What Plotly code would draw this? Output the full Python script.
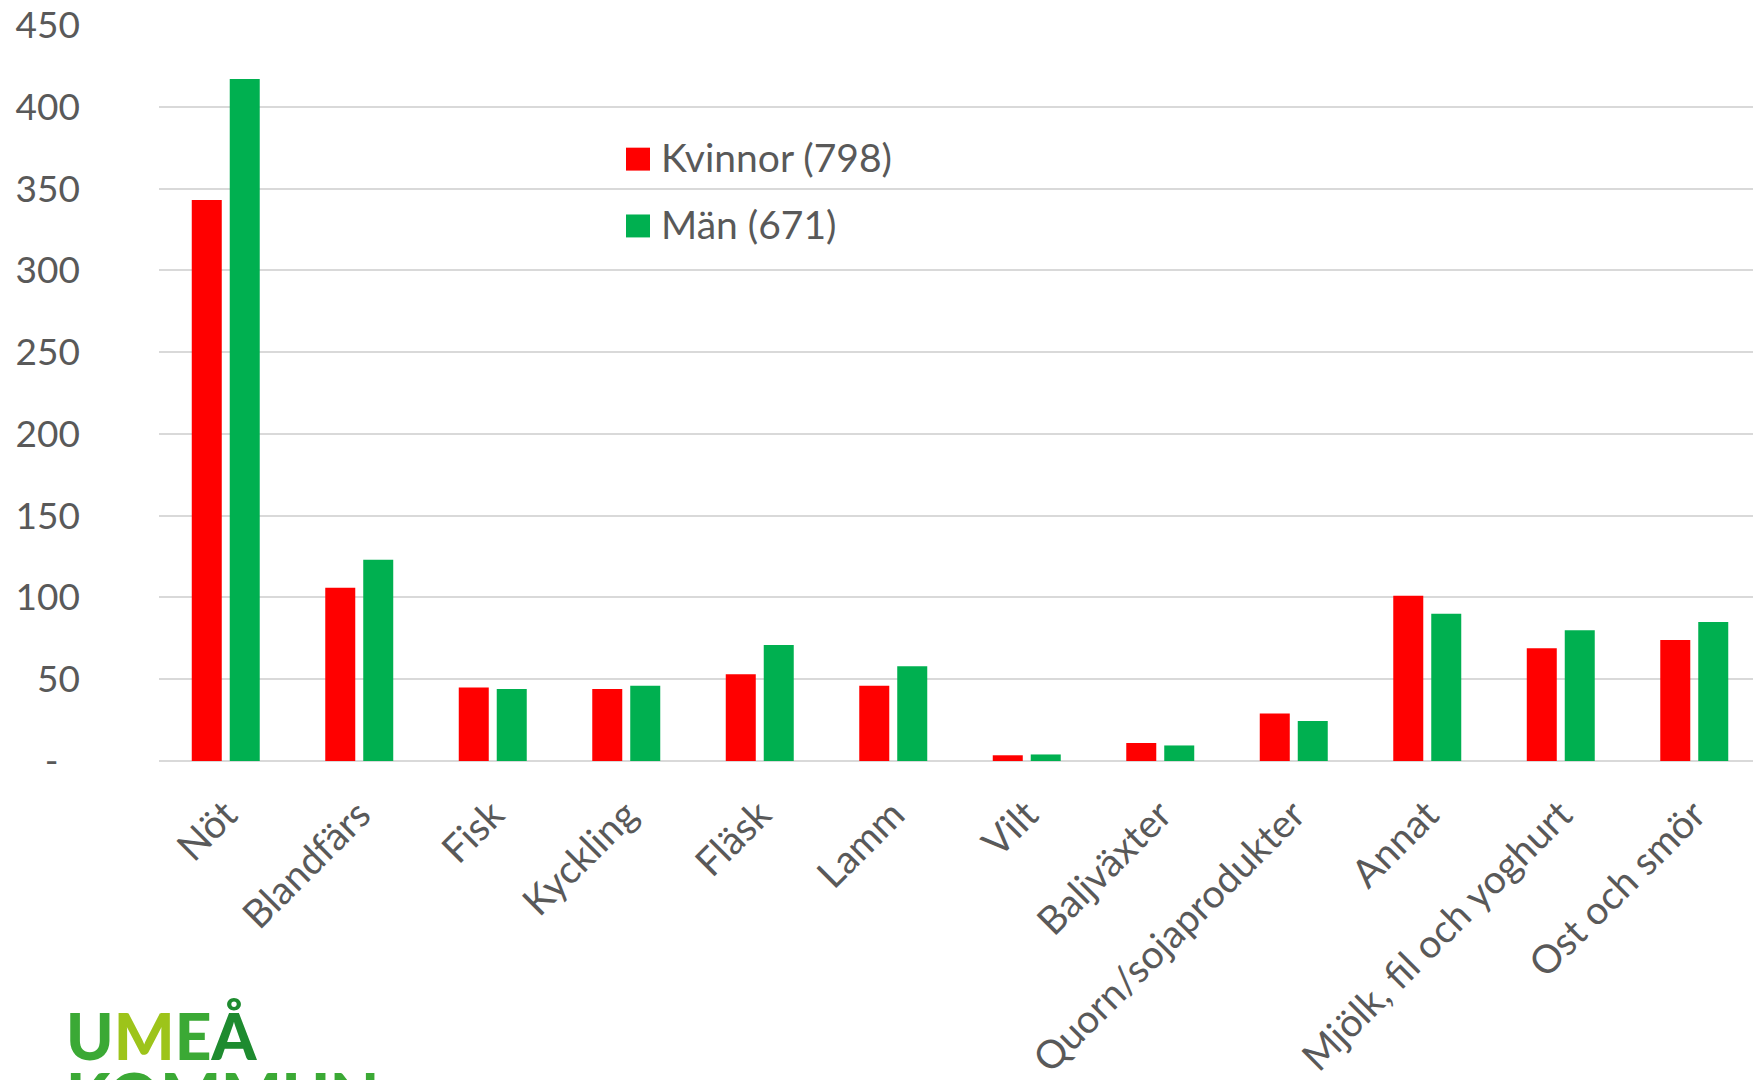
import plotly.graph_objects as go

categories = ["Nöt", "Blandfärs", "Fisk", "Kyckling", "Fläsk", "Lamm", "Vilt",
              "Baljväxter", "Quorn/sojaprodukter", "Annat", "Mjölk, fil och yoghurt", "Ost och smör"]
kvinnor = [343, 106, 45, 44, 53, 46, 3.5, 11, 29, 101, 69, 74]
man = [417, 123, 44, 46, 71, 58, 4, 9.5, 24.5, 90, 80, 85]
series_names = ["Kvinnor (798)", "Män (671)"]
series_colors = ["#FF0000", "#00B050"]
y_tickvals = [0, 50, 100, 150, 200, 250, 300, 350, 400, 450]
y_ticktext = ["-\u2007", "50", "100", "150", "200", "250", "300", "350", "400", "450"]

FONT = "Lato, 'Open Sans', sans-serif"
GREY = "#595959"

# plot area geometry (pixels)
L, T, W, H = 159, 25, 1594, 738


def px(x):
    return (x - L) / W


def py(y):
    return (T + H - y) / H


fig = go.Figure()
fig.add_trace(go.Bar(x=categories, y=kvinnor, name=series_names[0], marker_color=series_colors[0],
                     marker_line_width=0))
fig.add_trace(go.Bar(x=categories, y=man, name=series_names[1], marker_color=series_colors[1],
                     marker_line_width=0))

fig.update_layout(
    width=1753, height=1080,
    margin=dict(l=L, r=1753 - L - W, t=T, b=1080 - T - H),
    paper_bgcolor="white", plot_bgcolor="white",
    barmode="group", bargap=0.431, bargroupgap=0.21,
    font=dict(family=FONT, size=37, color=GREY),
    showlegend=False,
)
fig.update_xaxes(range=[-0.5, 11.44], tickangle=-45, showgrid=False, showline=False,
                 ticks="", tickfont=dict(size=39, color=GREY), ticklabelstandoff=22)
fig.update_yaxes(range=[0, 450], tickvals=y_tickvals, ticktext=y_ticktext,
                 showgrid=True, gridcolor="#D9D9D9", gridwidth=1.5,
                 zeroline=True, zerolinecolor="#D9D9D9", zerolinewidth=1.5,
                 showline=False, ticks="", tickfont=dict(size=37, color=GREY),
                 ticklabelstandoff=78)

# Legend (drawn manually to get the large square keys)
legend_rows = [(148, 171, 157), (215, 238, 224.5)]
for (y0, y1, yc), name, col in zip(legend_rows, series_names, series_colors):
    fig.add_shape(type="rect", xref="paper", yref="paper",
                  x0=px(626), x1=px(650), y0=py(y1), y1=py(y0),
                  fillcolor=col, line_width=0)
    fig.add_annotation(xref="paper", yref="paper", x=px(659), y=py(yc),
                       xanchor="left", yanchor="middle", showarrow=False,
                       text=name, font=dict(family=FONT, size=39, color=GREY))

# Logo text
fig.add_annotation(
    xref="paper", yref="paper", x=px(64), y=py(1038),
    xanchor="left", yanchor="middle", showarrow=False,
    text="<span style='color:#3BA935'>U</span><span style='color:#9DC41A'>M</span>"
         "<span style='color:#3BA935'>E</span><span style='color:#1E8B2F'>Å</span>",
    font=dict(family="Lato, sans-serif", size=64, weight=900),
)
fig.add_annotation(
    xref="paper", yref="paper", x=px(64), y=py(1098),
    xanchor="left", yanchor="middle", showarrow=False,
    text="KOMMUN",
    font=dict(family="Lato, sans-serif", size=64, weight=900, color="#3BA935"),
)

fig.write_html(
    "out.html",
    config={"displayModeBar": False},
    post_script="document.body.style.margin='0';"
                "document.body.style.overflow='hidden';"
                "document.documentElement.style.overflow='hidden';",
)
